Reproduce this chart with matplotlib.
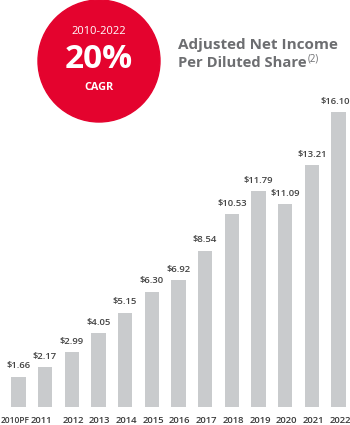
import matplotlib.pyplot as plt
from matplotlib.patches import Ellipse

years = ['2010PF', '2011', '2012', '2013', '2014', '2015', '2016',
         '2017', '2018', '2019', '2020', '2021', '2022']
eps = [1.66, 2.17, 2.99, 4.05, 5.15, 6.30, 6.92, 8.54, 10.53, 11.79, 11.09, 13.21, 16.10]
labels = ['$%.2f' % v for v in eps]

W, H = 350, 425
fig = plt.figure(figsize=(W / 100, H / 100), dpi=100)
fig.patch.set_facecolor('white')
plt.rcParams['font.family'] = ['Open Sans', 'DejaVu Sans']

# bar axes (pixel geometry from reference)
ax = fig.add_axes([5 / W, 18 / H, 347 / W, 311 / H])
ax.bar(range(len(eps)), eps, width=0.54, color='#c9cbcd')
for i, (v, lab) in enumerate(zip(eps, labels)):
    x = i - 0.12 if i == len(eps) - 1 else i  # keep last label inside the figure
    ax.text(x, v + 0.35, lab, ha='center', va='bottom', fontsize=6.8,
            color='#444444', fontweight='semibold')

# year labels: the first two sit left of their bars in the original
for i, yr in enumerate(years):
    if i == 0:
        ax.text(-0.68, -0.75, yr, ha='left', va='center',
                fontsize=6.0, color='#3a3a3a', fontweight='semibold')
    elif i == 1:
        ax.text(0.86, -0.75, yr, ha='center', va='center',
                fontsize=6.8, color='#3a3a3a', fontweight='semibold')
    else:
        ax.text(i + 0.05, -0.75, yr, ha='center', va='center',
                fontsize=6.8, color='#3a3a3a', fontweight='semibold')

ax.set_xlim(-0.5, 12.5)
ax.set_ylim(0, 17)
ax.set_xticks([])
ax.set_yticks([])
for s in ax.spines.values():
    s.set_visible(False)
ax.set_facecolor('none')

# red CAGR circle
circ = Ellipse((99 / W, 1 - 61 / H), 122 / W, 122 / H, transform=fig.transFigure,
               color='#e4032e', zorder=0)
fig.add_artist(circ)
fig.text(99 / W, 1 - 32 / H, '2010-2022', ha='center', va='center',
         color='white', fontsize=8)
fig.text(99 / W, 1 - 59 / H, '20%', ha='center', va='center',
         color='white', fontsize=24, fontweight='bold')
fig.text(99 / W, 1 - 87 / H, 'CAGR', ha='center', va='center',
         color='white', fontsize=7.8, fontweight='bold')

# title
fig.text(178 / W, 1 - 45 / H, 'Adjusted Net Income', ha='left', va='center',
         color='#6d6e71', fontsize=11, fontweight='bold')
t = fig.text(178 / W, 1 - 63 / H, 'Per Diluted Share', ha='left', va='center',
             color='#6d6e71', fontsize=10.6, fontweight='bold')
fig.canvas.draw()
bb = t.get_window_extent()
fig.text(bb.x1 / W + 1 / W, 1 - 59 / H, '(2)', ha='left', va='center',
         color='#6d6e71', fontsize=7)

fig.savefig('out.png', dpi=100)
